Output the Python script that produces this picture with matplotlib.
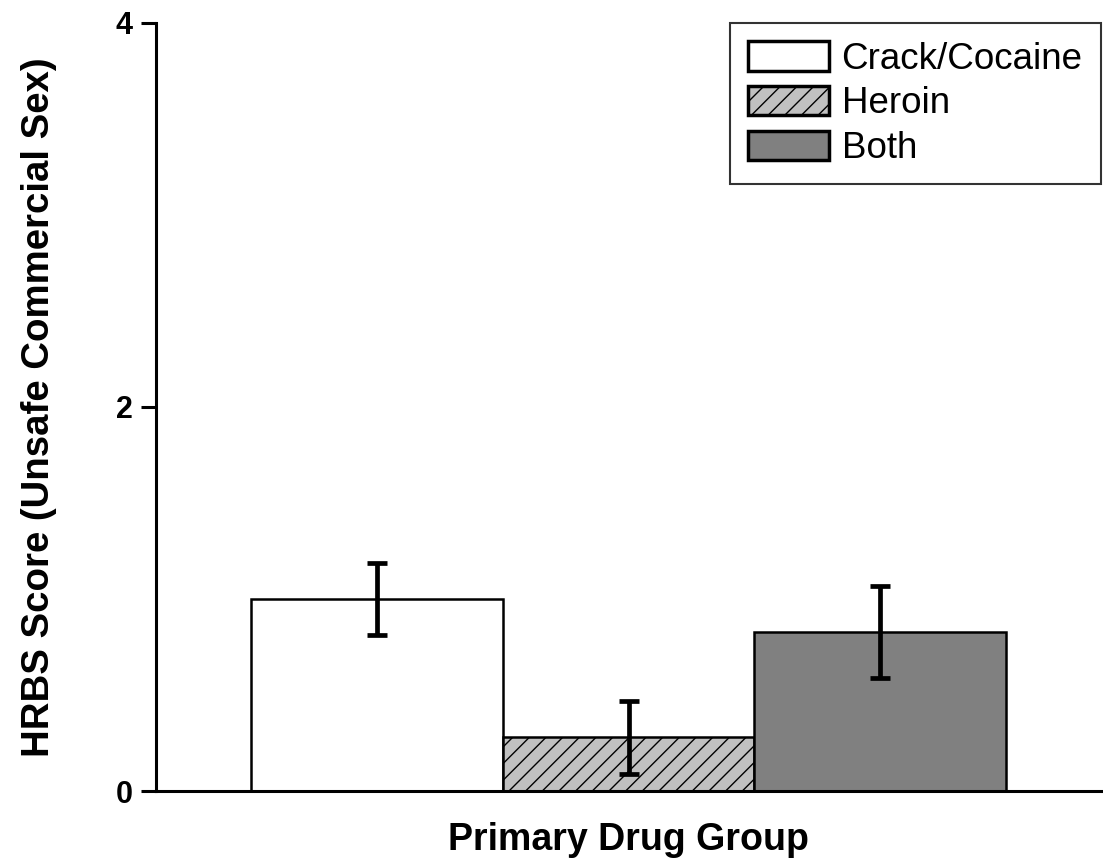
import matplotlib
matplotlib.use("Agg")
import matplotlib.pyplot as plt

plt.rcParams['font.family'] = ['Liberation Sans', 'DejaVu Sans']
plt.rcParams['hatch.linewidth'] = 1.0

groups = ["Crack/Cocaine", "Heroin", "Both"]
means = [1.0, 0.28, 0.83]
err_hi = [0.19, 0.19, 0.24]
err_lo = [0.19, 0.19, 0.24]
fills = ["white", "#c0c0c0", "#808080"]
hatches = [None, "//", None]

fig = plt.figure(figsize=(11.03, 8.63), dpi=100)
# axes box: spine at x=156..1101 px, y=23..791 px
ax = fig.add_axes([156 / 1103, 1 - 791 / 863, 945 / 1103, 768 / 863])

for i, name in enumerate(groups):
    ax.bar(i, means[i], width=1.0, color=fills[i], edgecolor="black",
           linewidth=1.8, hatch=hatches[i], label=name, zorder=2)
    eb = ax.errorbar(i, means[i], yerr=[[err_lo[i]], [err_hi[i]]], fmt="none",
                     ecolor="black", elinewidth=3.4, capsize=7, capthick=3.4, zorder=3)
    for cap in eb[1]:
        cap.set_solid_capstyle("round")

ax.set_xlim(-0.876, 2.876)
ax.set_ylim(0, 4)
ax.set_yticks([0, 2, 4])
ax.set_xticks([])
for lab in ax.get_yticklabels():
    lab.set_fontweight("bold")
ax.tick_params(axis="y", direction="out", length=11, width=2.2, labelsize=22, pad=6)
ax.spines["top"].set_visible(False)
ax.spines["right"].set_visible(False)
ax.spines["left"].set_linewidth(2.2)
ax.spines["bottom"].set_linewidth(2.2)

ax.set_xlabel("Primary Drug Group", fontsize=27, fontweight="bold", labelpad=22)
ax.set_ylabel("HRBS Score (Unsafe Commercial Sex)", fontsize=27.6, fontweight="bold", labelpad=42)

leg = ax.legend(loc="upper right", bbox_to_anchor=(1.0, 1.0), borderaxespad=0,
                fontsize=26.5, frameon=True, fancybox=False, edgecolor="black",
                handlelength=2.2, handleheight=0.85, handletextpad=0.33,
                borderpad=0.5, labelspacing=0.25)
leg.get_frame().set_linewidth(1.5)
for p in leg.get_patches():
    p.set_linewidth(2.5)

fig.savefig("out.png", dpi=100)
